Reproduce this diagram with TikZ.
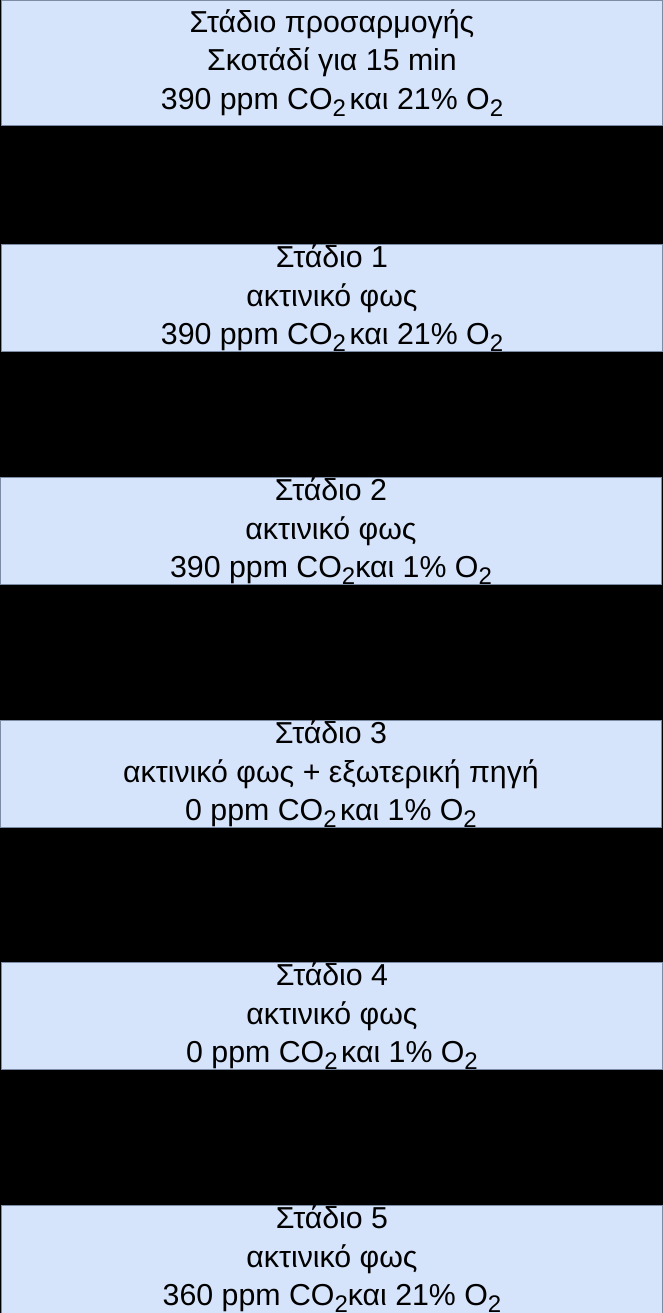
\documentclass[tikz,border=0pt]{standalone}
\usepackage{fontspec}
\setmainfont{Liberation Sans}
\usetikzlibrary{positioning}
\definecolor{stageblue}{RGB}{214,228,251}
\definecolor{stageline}{RGB}{125,140,165}
\newcommand{\lowtwo}{\smash{\raisebox{-7pt}{\fontsize{24}{24}\selectfont 2}}}
\tikzset{stagebox/.style={draw=stageline,line width=.8pt,fill=stageblue,
  minimum width=661pt,minimum height=107pt,inner sep=0pt,align=center,
  font=\fontsize{30.3}{38.5}\selectfont}}
\begin{document}
\begin{tikzpicture}[x=1pt,y=-1pt]
 %background
  \fill[black] (0,0) rectangle (663,1313);
  \useasboundingbox (0,0) rectangle (663,1313);
 %the stages
  \node[stagebox,minimum height=125pt] (s0) at (332,62.5)
    {Στάδιο προσαρμογής\\ Σκοτάδί για 15 min\\ 390 ppm CO\lowtwo\hspace{.12em}και 21\% O\lowtwo};
  \node[stagebox] (s1) at (332,298)
    {Στάδιο 1\\ ακτινικό φως\\ 390 ppm CO\lowtwo\hspace{.12em}και 21\% O\lowtwo};
  \node[stagebox] (s2) at (331,531)
    {Στάδιο 2\\ ακτινικό φως\\ 390 ppm CO\lowtwo και 1\% O\lowtwo};
  \node[stagebox] (s3) at (331,774)
    {Στάδιο 3\\ ακτινικό φως + εξωτερική πηγή\\ 0 ppm CO\lowtwo\hspace{.12em}και 1\% O\lowtwo};
  \node[stagebox] (s4) at (332,1016)
    {Στάδιο 4\\ ακτινικό φως\\ 0 ppm CO\lowtwo\hspace{.12em}και 1\% O\lowtwo};
  \node[stagebox,minimum height=108pt] (s5) at (332,1259)
    {Στάδιο 5\\ ακτινικό φως\\ 360 ppm CO\lowtwo και 21\% O\lowtwo};
\end{tikzpicture}
\end{document}
